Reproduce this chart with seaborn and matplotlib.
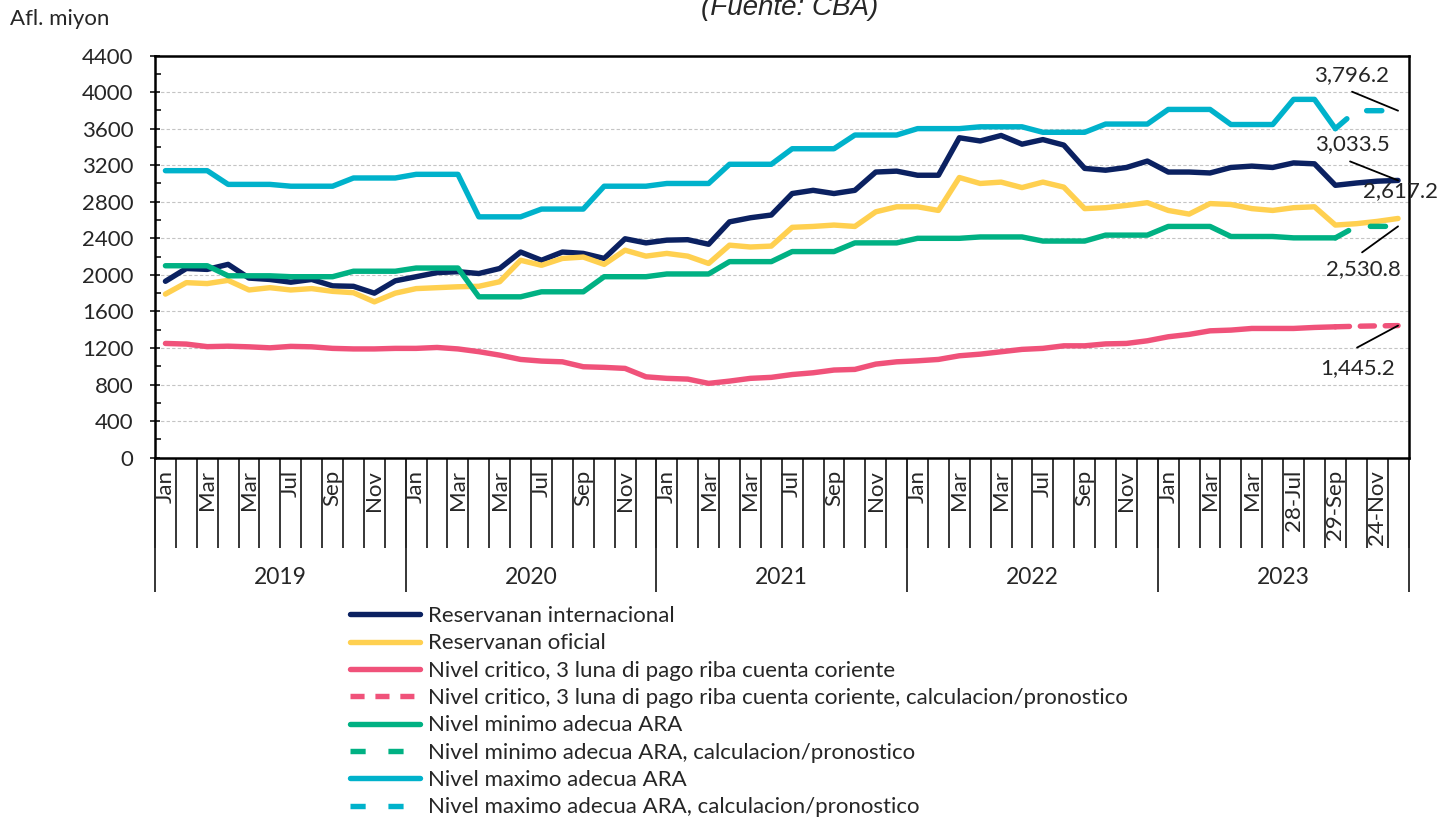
import numpy as np
import matplotlib
matplotlib.use("Agg")
import matplotlib.pyplot as plt
import seaborn as sns
from matplotlib.lines import Line2D
from matplotlib.ticker import MultipleLocator

# ---------------- data ----------------
years = ["2019", "2020", "2021", "2022", "2023"]
month_labels = (["Jan", "", "Mar", "", "Mar", "", "Jul", "", "Sep", "", "Nov", ""] * 4
                + ["Jan", "", "Mar", "", "Mar", "", "28-Jul", "", "29-Sep", "", "24-Nov", ""])

reservas_internacional = [
    1930, 2070, 2060, 2115, 1965, 1950, 1920, 1950, 1880, 1875, 1800, 1935,
    1980, 2025, 2035, 2015, 2070, 2250, 2160, 2250, 2235, 2180, 2395, 2350,
    2380, 2385, 2335, 2580, 2625, 2655, 2890, 2925, 2890, 2925, 3125, 3135,
    3090, 3090, 3500, 3465, 3525, 3430, 3480, 3420, 3165, 3145, 3175, 3245,
    3125, 3125, 3115, 3175, 3190, 3175, 3225, 3215, 2980, 3005, 3025, 3033.5]

reservas_oficial = [
    1790, 1915, 1905, 1940, 1835, 1860, 1835, 1850, 1820, 1805, 1705, 1800,
    1850, 1860, 1870, 1875, 1925, 2160, 2105, 2180, 2195, 2115, 2270, 2205,
    2235, 2205, 2125, 2325, 2305, 2315, 2520, 2530, 2545, 2530, 2690, 2745,
    2745, 2705, 3065, 3000, 3015, 2955, 3015, 2960, 2725, 2735, 2760, 2790,
    2705, 2665, 2780, 2770, 2725, 2705, 2735, 2745, 2545, 2560, 2585, 2617.2]

critico_actual = [
    1250, 1243, 1215, 1220, 1213, 1202, 1218, 1213, 1196, 1190, 1190, 1196,
    1196, 1206, 1190, 1160, 1122, 1075, 1057, 1049, 995, 988, 977, 885,
    868, 860, 813, 838, 868, 879, 910, 929, 959, 966, 1024, 1049,
    1060, 1075, 1115, 1133, 1159, 1185, 1196, 1224, 1224, 1245, 1250, 1279,
    1323, 1349, 1388, 1396, 1414, 1414, 1414, 1425, 1432]
critico_pronostico = [1432, 1438, 1442, 1445.2]

minimo_actual = [
    2100, 2100, 2100, 1990, 1990, 1990, 1980, 1980, 1980, 2040, 2040, 2040,
    2075, 2075, 2075, 1760, 1760, 1760, 1815, 1815, 1815, 1980, 1980, 1980,
    2010, 2010, 2010, 2145, 2145, 2145, 2255, 2255, 2255, 2350, 2350, 2350,
    2400, 2400, 2400, 2415, 2415, 2415, 2370, 2370, 2370, 2435, 2435, 2435,
    2530, 2530, 2530, 2420, 2420, 2420, 2405, 2405, 2405]
minimo_pronostico = [2405, 2530.8, 2530.8, 2530.8]

maximo_actual = [
    3140, 3140, 3140, 2990, 2990, 2990, 2970, 2970, 2970, 3060, 3060, 3060,
    3100, 3100, 3100, 2635, 2635, 2635, 2720, 2720, 2720, 2970, 2970, 2970,
    3000, 3000, 3000, 3210, 3210, 3210, 3380, 3380, 3380, 3530, 3530, 3530,
    3600, 3600, 3600, 3620, 3620, 3620, 3560, 3560, 3560, 3650, 3650, 3650,
    3810, 3810, 3810, 3645, 3645, 3645, 3920, 3920, 3600]
maximo_pronostico = [3600, 3796.2, 3796.2, 3796.2]

legend_labels = [
    "Reservanan internacional",
    "Reservanan oficial",
    "Nivel critico, 3 luna di pago riba cuenta coriente",
    "Nivel critico, 3 luna di pago riba cuenta coriente, calculacion/pronostico",
    "Nivel minimo adecua ARA",
    "Nivel minimo adecua ARA, calculacion/pronostico",
    "Nivel maximo adecua ARA",
    "Nivel maximo adecua ARA, calculacion/pronostico",
]

# ---------------- style ----------------
NAVY = "#0B2161"
YELLOW = "#FFD050"
PINK = "#F0527A"
GREEN = "#00B183"
TEAL = "#00B2CB"
LW = 3.9
DASH_PINK = (0, (2.6, 2.0))
DASH_LONG = (0, (2.8, 4.2))
FS = 16

sns.set_style("white")
plt.rcParams["font.family"] = ["Lato", "DejaVu Sans"]

fig = plt.figure(figsize=(14.37, 8.18), dpi=100)
ax = fig.add_axes([0.10786, 0.44046, 0.87231, 0.49169])

n = len(reservas_internacional)
x_all = np.arange(n)
x_act = np.arange(len(critico_actual))
x_fc = np.arange(len(critico_actual) - 1, n)

common = dict(ax=ax, linewidth=LW, solid_capstyle="round", solid_joinstyle="round",
              dash_capstyle="round", legend=False)

sns.lineplot(x=x_all, y=reservas_internacional, color=NAVY, **common)
sns.lineplot(x=x_all, y=reservas_oficial, color=YELLOW, **common)
sns.lineplot(x=x_act, y=critico_actual, color=PINK, **common)
sns.lineplot(x=x_fc, y=critico_pronostico, color=PINK, linestyle=DASH_PINK, **common)
sns.lineplot(x=x_act, y=minimo_actual, color=GREEN, **common)
sns.lineplot(x=x_fc, y=minimo_pronostico, color=GREEN, linestyle=DASH_LONG, **common)
sns.lineplot(x=x_act, y=maximo_actual, color=TEAL, **common)
sns.lineplot(x=x_fc, y=maximo_pronostico, color=TEAL, linestyle=DASH_LONG, **common)

# ---------------- axes ----------------
ax.set_xlim(-0.5, n - 0.5)
ax.set_ylim(0, 4400)
ax.set_xlabel("")
ax.set_ylabel("")
ax.set_yticks(np.arange(0, 4401, 400))
ax.yaxis.set_minor_locator(MultipleLocator(200))
ax.tick_params(axis="y", which="major", direction="inout", length=7.2, width=1.3,
               labelsize=FS, pad=12, left=True)
ax.tick_params(axis="y", which="minor", direction="in", length=4.5, width=1.3, left=True)
ax.grid(axis="y", which="major", color="#c4c4c4", linestyle=(0, (3, 2)), linewidth=0.8)
ax.set_axisbelow(True)

ax.set_xticks(np.arange(-0.5, n, 1))
ax.set_xticklabels([])
ax.set_xticks(x_all, minor=True)
ax.set_xticklabels(month_labels, minor=True, rotation=90)
ax.tick_params(axis="x", which="major", direction="out", length=64.8, width=1.3, bottom=True)
ax.tick_params(axis="x", which="minor", length=0, pad=9, labelsize=FS, bottom=True)

for s in ax.spines.values():
    s.set_visible(True)
    s.set_color("black")
    s.set_linewidth(1.8)

sec = ax.secondary_xaxis("bottom")
sec.set_xticks(np.arange(-0.5, n, 12))
sec.set_xticklabels([])
sec.set_xticks(np.arange(5.5, n, 12), minor=True)
sec.set_xticklabels(years, minor=True)
sec.tick_params(which="major", length=96.5, width=1.3, direction="out")
sec.tick_params(which="minor", length=0, pad=79, labelsize=16.5)
sec.spines["bottom"].set_visible(False)

# ---------------- annotations ----------------
def label_end(value, text, line_off, text_off):
    if line_off is not None:
        ax.annotate("", xy=(n - 1, value), xytext=line_off, textcoords="offset pixels",
                    arrowprops=dict(arrowstyle="-", color="black", lw=1.3,
                                    shrinkA=0, shrinkB=0))
    ax.annotate(text, xy=(n - 1, value), xytext=text_off, textcoords="offset pixels",
                ha="center", va="center", fontsize=FS, annotation_clip=False)

label_end(maximo_pronostico[-1], f"{maximo_pronostico[-1]:,.1f}", (-46, 19), (-47, 36))
label_end(reservas_internacional[-1], f"{reservas_internacional[-1]:,.1f}", (-48, 19), (-46, 36))
label_end(reservas_oficial[-1], f"{reservas_oficial[-1]:,.1f}", None, (2, 27))
label_end(minimo_pronostico[-1], f"{minimo_pronostico[-1]:,.1f}", (-36, -26), (-35, -43))
label_end(critico_pronostico[-1], f"{critico_pronostico[-1]:,.1f}", (-41, -22), (-40, -42))

# ---------------- texts ----------------
fig.text(10 / 1437, 1 - 19 / 818, "Afl. miyon", ha="left", va="center", fontsize=FS)
fig.text(790 / 1437, 1 - 15 / 818, "(Fuente: CBA)", ha="center", va="baseline",
         fontsize=20, style="italic", family=["Liberation Sans", "DejaVu Sans"])

# ---------------- legend ----------------
handles = [
    Line2D([], [], color=NAVY, lw=LW),
    Line2D([], [], color=YELLOW, lw=LW),
    Line2D([], [], color=PINK, lw=LW),
    Line2D([], [], color=PINK, lw=LW, linestyle=DASH_PINK),
    Line2D([], [], color=GREEN, lw=LW),
    Line2D([], [], color=GREEN, lw=LW, linestyle=DASH_LONG),
    Line2D([], [], color=TEAL, lw=LW),
    Line2D([], [], color=TEAL, lw=LW, linestyle=DASH_LONG),
]
fig.legend(handles, legend_labels, loc="upper left",
           bbox_to_anchor=(350 / 1437, 1 - 606 / 818), frameon=False,
           fontsize=FS, handlelength=3.15, handletextpad=0.35, labelspacing=0.33,
           borderpad=0, borderaxespad=0)

fig.savefig("out.png", dpi=100)
